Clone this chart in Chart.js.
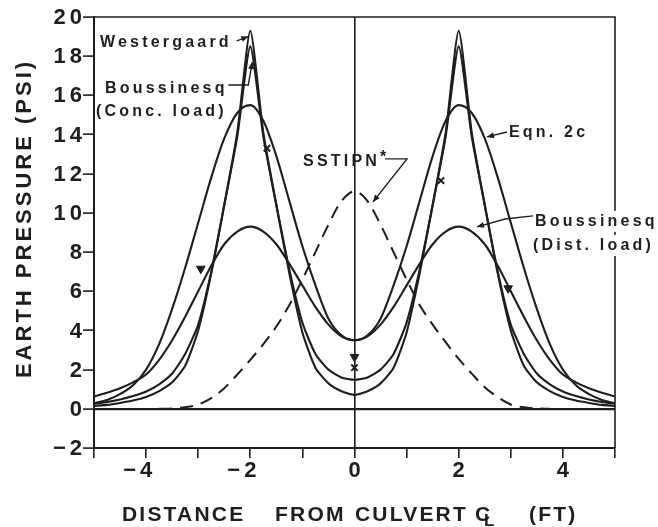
<!DOCTYPE html>
<html>
<head>
<meta charset="utf-8">
<script src="https://cdn.jsdelivr.net/npm/chart.js@4/dist/chart.umd.min.js"></script>
<style>
  html, body { margin: 0; padding: 0; background: #fff; }
  canvas { display: block; }
</style>
</head>
<body>
<canvas id="c" width="658" height="527"></canvas>
<script>
// Distance from culvert centreline (ft) for the computed pressure curves
const xGrid = [-5, -4.75, -4.5, -4.25, -4, -3.75, -3.5, -3.25, -3, -2.75, -2.5, -2.25, -2,
  -1.75, -1.5, -1.25, -1, -0.75, -0.5, -0.25, 0, 0.25, 0.5, 0.75, 1, 1.25, 1.5, 1.75, 2,
  2.25, 2.5, 2.75, 3, 3.25, 3.5, 3.75, 4, 4.25, 4.5, 4.75, 5];

// Earth pressure (psi)
const eqn2c = [0.28, 0.45, 0.75, 1.2, 2.0, 3.3, 5.1, 7.2, 9.5, 11.8, 13.8, 15.1, 15.5,
  14.7, 12.9, 10.6, 8.3, 6.3, 4.6, 3.75, 3.5, 3.75, 4.6, 6.3, 8.3, 10.6, 12.9, 14.7, 15.5,
  15.1, 13.8, 11.8, 9.5, 7.2, 5.1, 3.3, 2.0, 1.2, 0.75, 0.45, 0.28];

const boussinesqDist = [0.63, 0.82, 1.05, 1.35, 1.75, 2.5, 3.5, 4.7, 6.0, 7.3, 8.4, 9.05, 9.3,
  9.05, 8.4, 7.4, 6.3, 5.2, 4.3, 3.7, 3.5, 3.7, 4.3, 5.2, 6.3, 7.4, 8.4, 9.05, 9.3,
  9.05, 8.4, 7.3, 6.0, 4.7, 3.5, 2.5, 1.75, 1.35, 1.05, 0.82, 0.63];

const westergaard = [0.15, 0.2, 0.3, 0.42, 0.6, 0.9, 1.35, 2.2, 4.0, 6.9, 10.4, 14.1, 19.3,
  14.1, 10.4, 6.9, 3.9, 2.1, 1.3, 0.9, 0.71, 0.9, 1.3, 2.1, 3.9, 6.9, 10.4, 14.1, 19.3,
  14.1, 10.4, 6.9, 4.0, 2.2, 1.35, 0.9, 0.6, 0.42, 0.3, 0.2, 0.15];

const boussinesqConc = [0.26, 0.35, 0.48, 0.65, 0.88, 1.25, 1.8, 2.8, 4.3, 7.0, 10.4, 13.9, 18.5,
  13.9, 10.4, 7.1, 4.4, 2.8, 2.0, 1.6, 1.48, 1.6, 2.0, 2.8, 4.4, 7.1, 10.4, 13.9, 18.5,
  13.9, 10.4, 7.0, 4.3, 2.8, 1.8, 1.25, 0.88, 0.65, 0.48, 0.35, 0.26];

// SSTIPN finite element result
const sstipnX = [-3.75, -3.5, -3.25, -3, -2.75, -2.5, -2.25, -2, -1.75, -1.5, -1.25, -1, -0.75,
  -0.5, -0.25, 0, 0.25, 0.5, 0.75, 1, 1.25, 1.5, 1.75, 2, 2.25, 2.5, 2.75, 3, 3.25, 3.5, 3.75];
const sstipn = [0, 0.02, 0.08, 0.22, 0.55, 1.05, 1.75, 2.5, 3.3, 4.2, 5.3, 6.6, 8.0,
  9.4, 10.6, 11.1, 10.6, 9.4, 8.0, 6.6, 5.3, 4.3, 3.4, 2.55, 1.8, 1.1, 0.6, 0.22, 0.08, 0.02, 0];

// Measured pressures
const triangleX = [-2.95, 0, 2.95];
const triangleY = [7.15, 2.65, 6.15];
const crossX = [-1.68, 0, 1.66];
const crossY = [13.3, 2.1, 11.65];

// Axis ticks
const yTicks = [-2, 0, 2, 4, 6, 8, 10, 12, 14, 16, 18, 20];
const xTicks = [-4, -2, 0, 2, 4];

const INK = '#1e1e1e';
const FONT = '"Liberation Sans", Arial, Helvetica, sans-serif';

// Curve labels (data coordinates of the text's left end / baseline)
const notes = [
  { text: 'Westergaard', x: -4.885, y: 18.47 },
  { text: 'Boussinesq', x: -4.789, y: 16.12 },
  { text: '(Conc. load)', x: -4.962, y: 14.95 },
  { text: 'SSTIPN', x: -0.988, y: 12.40 },
  { text: 'Eqn. 2c', x: 2.965, y: 13.88 },
  { text: 'Boussinesq', x: 3.465, y: 9.34, mask: true },
  { text: '(Dist. load)', x: 3.426, y: 8.11, mask: true }
];
// Leader lines, ending in an arrowhead
const leaders = [
  [[-2.261, 18.78], [-2.038, 19.0]],
  [[-2.422, 16.53], [-2.038, 16.53], [-1.962, 17.70]],
  [[2.927, 14.13], [2.543, 13.88]],
  [[0.585, 12.76], [1.008, 12.76], [0.355, 10.56]],
  [[3.426, 9.85], [2.889, 9.69], [2.351, 9.29]]
];

const pts = (xs, ys) => xs.map((x, i) => ({ x, y: ys[i] }));

function arrowLine(ctx, p) {
  ctx.beginPath();
  p.forEach((q, i) => (i ? ctx.lineTo(q[0], q[1]) : ctx.moveTo(q[0], q[1])));
  ctx.stroke();
  const a = p[p.length - 2], b = p[p.length - 1];
  const ang = Math.atan2(b[1] - a[1], b[0] - a[0]);
  const L = 7, W = 3;
  const c = Math.cos(ang), s = Math.sin(ang);
  ctx.beginPath();
  ctx.moveTo(b[0], b[1]);
  ctx.lineTo(b[0] - L * c + W * s, b[1] - L * s - W * c);
  ctx.lineTo(b[0] - L * c - W * s, b[1] - L * s + W * c);
  ctx.closePath();
  ctx.fill();
}

const decor = {
  id: 'decor',
  afterDraw(chart) {
    const { ctx, chartArea: a, scales: { x, y } } = chart;
    ctx.save();
    ctx.strokeStyle = INK;
    ctx.fillStyle = INK;

    // top and right frame
    ctx.lineWidth = 1.6;
    ctx.beginPath();
    ctx.moveTo(a.left, a.top);
    ctx.lineTo(a.right, a.top);
    ctx.lineTo(a.right, a.bottom);
    ctx.stroke();

    // y tick labels
    ctx.font = 'bold 22px ' + FONT;
    ctx.letterSpacing = '4px';
    ctx.textBaseline = 'middle';
    ctx.textAlign = 'right';
    yTicks.forEach(v => {
      const t = v < 0 ? '\u2212' + Math.abs(v) : String(v);
      ctx.fillText(t, a.left - 8, y.getPixelForValue(v) + 1);
    });

    // x tick labels: digits centred on the tick, minus sign hanging left
    xTicks.forEach(v => {
      const digits = String(Math.abs(v));
      const w = ctx.measureText(digits).width - 4;
      const t = v < 0 ? '\u2212' + digits : digits;
      ctx.fillText(t, x.getPixelForValue(v) + w / 2 + 4, a.bottom + 23);
    });

    // axis titles
    ctx.font = 'bold 22px ' + FONT;
    ctx.letterSpacing = '3px';
    ctx.textBaseline = 'alphabetic';
    ctx.save();
    ctx.translate(31, (a.top + a.bottom) / 2 - 14);
    ctx.rotate(-Math.PI / 2);
    ctx.textAlign = 'center';
    ctx.fillText('EARTH PRESSURE (PSI)', 0, 0);
    ctx.restore();

    ctx.font = 'bold 21px ' + FONT;
    ctx.letterSpacing = '2.2px';
    ctx.textAlign = 'left';
    const tb = a.bottom + 73;
    ctx.fillText('DISTANCE', 122, tb);
    ctx.fillText('FROM', 275, tb);
    ctx.fillText('CULVERT', 355, tb);
    ctx.fillText('C', 475, tb);
    ctx.font = 'bold 17px ' + FONT;
    ctx.fillText('L', 484, tb + 5);
    ctx.font = 'bold 21px ' + FONT;
    ctx.fillText('(FT)', 529, tb);

    // curve labels
    ctx.font = 'bold 16px ' + FONT;
    ctx.letterSpacing = '3.2px';
    notes.forEach(n => {
      const px = x.getPixelForValue(n.x), py = y.getPixelForValue(n.y);
      if (n.mask) {
        const w = ctx.measureText(n.text).width;
        ctx.fillStyle = '#fff';
        ctx.fillRect(px - 2, py - 15, w + 6, 21);
        ctx.fillStyle = INK;
      }
      ctx.fillText(n.text, px, py);
    });
    // footnote star after SSTIPN
    ctx.fillText('*', x.getPixelForValue(0.489), y.getPixelForValue(12.62));

    // leaders
    ctx.letterSpacing = '0px';
    ctx.lineWidth = 1.4;
    leaders.forEach(l => arrowLine(ctx, l.map(q => [x.getPixelForValue(q[0]), y.getPixelForValue(q[1])])));
    ctx.restore();
  }
};

const curve = (data, extra) => Object.assign({
  data, borderColor: INK, borderWidth: 2.1, pointRadius: 0, fill: false
}, extra);

new Chart(document.getElementById('c').getContext('2d'), {
  type: 'line',
  data: {
    datasets: [
      curve(pts(xGrid, eqn2c), { cubicInterpolationMode: 'monotone' }),
      curve(pts(xGrid, boussinesqDist), { cubicInterpolationMode: 'monotone' }),
      curve(pts(xGrid, westergaard), { tension: 0.2 }),
      curve(pts(xGrid, boussinesqConc), { tension: 0.2 }),
      curve(pts(sstipnX, sstipn), { cubicInterpolationMode: 'monotone', borderDash: [13, 8], borderWidth: 2 }),
      { type: 'scatter', data: pts(triangleX, triangleY), pointStyle: 'triangle', rotation: 180,
        pointRadius: 5, backgroundColor: INK, borderColor: INK, borderWidth: 1 },
      { type: 'scatter', data: pts(crossX, crossY), pointStyle: 'crossRot',
        pointRadius: 4.5, borderColor: INK, borderWidth: 2 }
    ]
  },
  options: {
    responsive: false,
    animation: false,
    devicePixelRatio: 1,
    layout: { padding: { top: 17, right: 43, left: 0, bottom: 0 } },
    plugins: { legend: { display: false }, tooltip: { enabled: false } },
    scales: {
      x: {
        type: 'linear', min: -5, max: 5,
        ticks: { display: false, stepSize: 1 },
        grid: {
          color: c => (c.tick && c.tick.value === 0 ? INK : 'rgba(0,0,0,0)'),
          lineWidth: 1.6, tickColor: INK, tickWidth: 1.6, tickLength: 10
        },
        border: { display: true, color: INK, width: 2 },
        afterFit: s => { s.height = 79; }
      },
      y: {
        type: 'linear', min: -2, max: 20,
        ticks: { display: false, stepSize: 2 },
        grid: {
          color: c => (c.tick && c.tick.value === 0 ? INK : 'rgba(0,0,0,0)'),
          lineWidth: 2.2, tickColor: INK, tickWidth: 1.6, tickLength: 11
        },
        border: { display: true, color: INK, width: 2 },
        afterFit: s => { s.width = 94; }
      }
    }
  },
  plugins: [decor]
});
</script>
</body>
</html>
